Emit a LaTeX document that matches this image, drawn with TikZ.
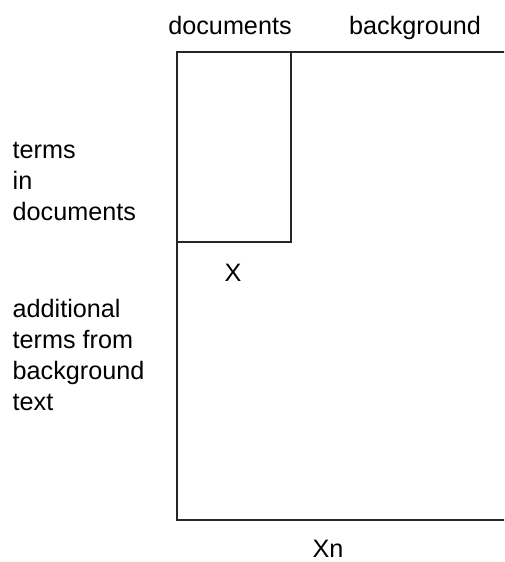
\documentclass[tikz,border=0pt]{standalone}
\usepackage{fontspec}
\setmainfont{Liberation Sans}
\begin{document}
\begin{tikzpicture}[x=1pt,y=-1pt,
  lbl/.style={inner sep=0pt,font=\fontsize{25.2}{30.8}\selectfont},
  box/.style={draw=black!85,line width=1.3pt}]
\useasboundingbox (0,0) rectangle (504,562);
\begin{scope}
\clip (0,0) rectangle (504,562);
\draw[box] (177,52) rectangle (510,520);
\end{scope}
\draw[box] (177,52) rectangle (291,242);
\node[lbl,anchor=base] (doc) at (230,34.5) {documents};
\node[lbl,anchor=base] (bg) at (415,34.5) {background};
\node[lbl,anchor=base] (x) at (233,281) {X};
\node[lbl,anchor=base] (xn) at (328,557) {Xn};
\node[lbl,anchor=base west,align=left] (tid) at (12.5,220) {terms\\in\\documents};
\node[lbl,anchor=base west,align=left] (add) at (12.5,410) {additional\\terms from\\background\\text};
\end{tikzpicture}
\end{document}
